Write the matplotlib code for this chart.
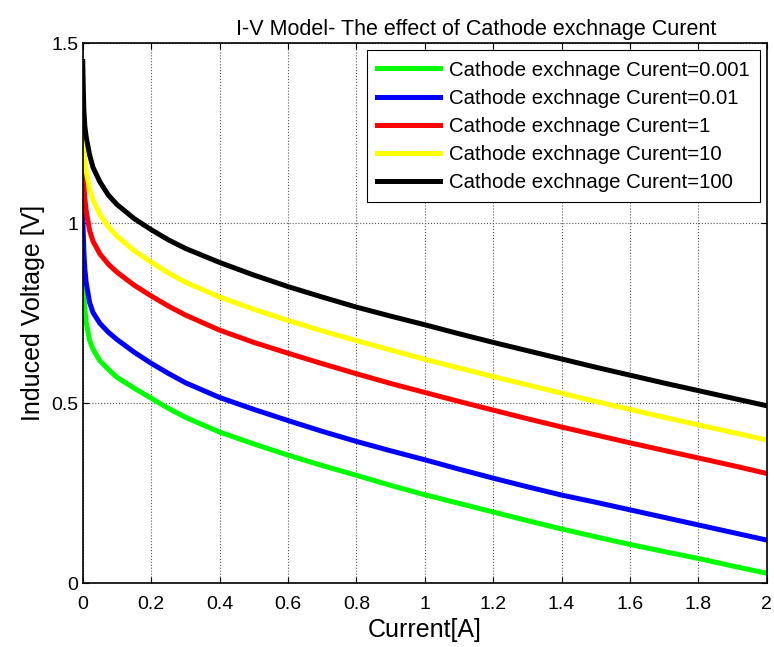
import matplotlib.pyplot as plt

plt.rcParams['font.family'] = ['Liberation Sans', 'DejaVu Sans']

# current values [A]
current = [0, 0.001, 0.003, 0.006, 0.01, 0.02, 0.03, 0.05, 0.075, 0.1, 0.15, 0.2, 0.25, 0.3,
           0.4, 0.5, 0.6, 0.7, 0.8, 0.9, 1.0, 1.1, 1.2, 1.3, 1.4, 1.5, 1.6, 1.7, 1.8, 1.9, 2.0]

# induced voltage [V] for each cathode exchange current
v_0001 = [0.889, 0.855, 0.81, 0.765, 0.725, 0.675, 0.65, 0.618, 0.594, 0.572, 0.542, 0.514, 0.486, 0.461,
          0.420, 0.387, 0.356, 0.327, 0.300, 0.272, 0.246, 0.222, 0.198, 0.174, 0.151, 0.129, 0.108,
          0.088, 0.069, 0.048, 0.028]
v_001 = [1.074, 0.99, 0.925, 0.875, 0.835, 0.78, 0.752, 0.722, 0.697, 0.677, 0.642, 0.611, 0.583, 0.557,
         0.516, 0.483, 0.452, 0.422, 0.394, 0.368, 0.343, 0.317, 0.292, 0.268, 0.245, 0.225, 0.204,
         0.183, 0.162, 0.141, 0.120]
v_1 = [1.171, 1.145, 1.11, 1.07, 1.035, 0.98, 0.95, 0.915, 0.886, 0.864, 0.828, 0.798, 0.770, 0.745,
       0.703, 0.669, 0.639, 0.610, 0.582, 0.555, 0.530, 0.505, 0.481, 0.457, 0.434, 0.412, 0.390,
       0.369, 0.348, 0.327, 0.305]
v_10 = [1.259, 1.235, 1.205, 1.175, 1.145, 1.095, 1.065, 1.025, 0.99, 0.964, 0.924, 0.892, 0.862, 0.836,
        0.795, 0.761, 0.730, 0.701, 0.674, 0.648, 0.622, 0.598, 0.574, 0.551, 0.528, 0.505, 0.483,
        0.461, 0.440, 0.419, 0.398]
v_100 = [1.449, 1.40, 1.32, 1.27, 1.24, 1.19, 1.155, 1.115, 1.078, 1.052, 1.013, 0.982, 0.954, 0.930,
         0.891, 0.856, 0.824, 0.795, 0.767, 0.742, 0.718, 0.693, 0.669, 0.646, 0.623, 0.600, 0.578,
         0.556, 0.535, 0.514, 0.493]

labels = ['Cathode exchnage Curent=0.001', 'Cathode exchnage Curent=0.01', 'Cathode exchnage Curent=1',
          'Cathode exchnage Curent=10', 'Cathode exchnage Curent=100']
colors = ['#00ff00', '#0000ff', '#ff0000', '#ffff00', '#000000']

xticks = [0, 0.2, 0.4, 0.6, 0.8, 1, 1.2, 1.4, 1.6, 1.8, 2]
xticklabels = ['0', '0.2', '0.4', '0.6', '0.8', '1', '1.2', '1.4', '1.6', '1.8', '2']
yticks = [0, 0.5, 1, 1.5]
yticklabels = ['0', '0.5', '1', '1.5']

fig = plt.figure(figsize=(7.74, 6.47), dpi=100)
ax = fig.add_axes([0.1069, 0.0985, 0.8837, 0.8348])

for v, lab, c in zip([v_0001, v_001, v_1, v_10, v_100], labels, colors):
    ax.plot(current, v, color=c, linewidth=3.6, label=lab, solid_joinstyle='round')

ax.set_xlim(0, 2)
ax.set_ylim(0, 1.5)
ax.set_xticks(xticks)
ax.set_xticklabels(xticklabels)
ax.set_yticks(yticks)
ax.set_yticklabels(yticklabels)
ax.tick_params(direction='in', length=4, width=0.8, top=True, right=True, labelsize=14)
ax.tick_params(axis='x', pad=9)
ax.tick_params(axis='y', pad=3)
ax.grid(True, linestyle=':', color='#555555', linewidth=0.8)
for s in ax.spines.values():
    s.set_linewidth(1.2)

ax.set_title('I-V Model- The effect of Cathode exchnage Curent', fontsize=15.5, pad=6, x=0.575)
ax.set_xlabel('Current[A]', fontsize=18, labelpad=4)
ax.set_ylabel('Induced Voltage [V]', fontsize=18, labelpad=5)

leg = ax.legend(loc='upper right', fontsize=14.7, handlelength=3.1, labelspacing=0.45,
                fancybox=False, framealpha=1, edgecolor='black', borderaxespad=0.35,
                handletextpad=0.4, borderpad=0.5)
leg.get_frame().set_linewidth(0.8)

plt.savefig('out.png', dpi=100)
